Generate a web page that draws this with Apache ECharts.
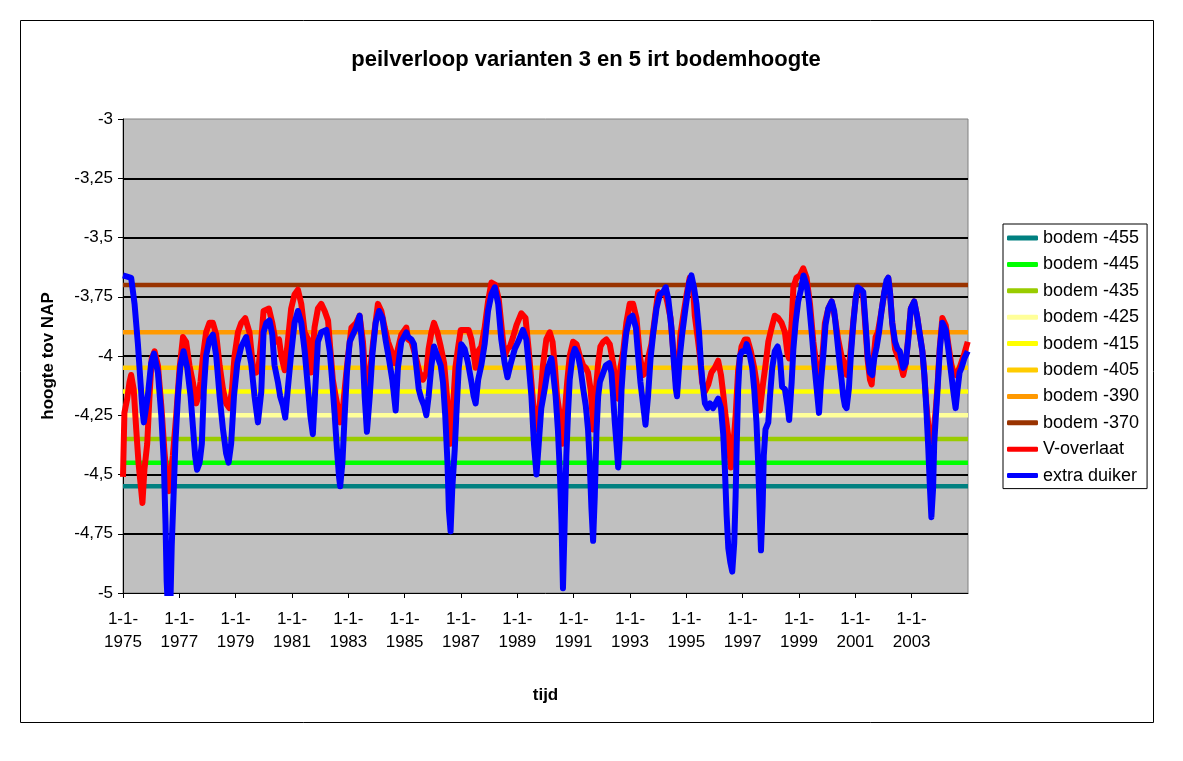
<!DOCTYPE html>
<html><head><meta charset="utf-8">
<script src="https://cdn.jsdelivr.net/npm/echarts@6/dist/echarts.min.js"></script>
<style>html,body{margin:0;padding:0;background:#fff}#c{width:1183px;height:761px}</style>
</head><body><div id="c"></div>
<script>
const chartTitle = 'peilverloop varianten 3 en 5 irt bodemhoogte';
const yName = 'hoogte tov NAP';
const xName = 'tijd';
const xOrigin = 1975;           // first date on the axis: 1-1-1975
const xEnd = 2005;
const xTickStep = 2;            // years between tick labels
const yMin = -5, yMax = -3, yStep = 0.25;

const bodemNames = ['bodem -455', 'bodem -445', 'bodem -435', 'bodem -425', 'bodem -415', 'bodem -405', 'bodem -390', 'bodem -370'];
const bodemLevels = [-4.55, -4.45, -4.35, -4.25, -4.15, -4.05, -3.90, -3.70];
const bodemColors = ['#008080', '#00FF00', '#99CC00', '#FFFF99', '#FFFF00', '#FFCC00', '#FF9900', '#993300'];

// [decimal year, level m NAP]
const vOverlaat = [
[1975.00,-4.51],[1975.05,-4.24],[1975.15,-4.18],[1975.23,-4.11],[1975.29,-4.08],[1975.38,-4.14],[1975.47,-4.31],[1975.55,-4.45],[1975.65,-4.57],[1975.69,-4.62],[1975.76,-4.48],[1975.86,-4.37],[1975.94,-4.17],[1976.02,-4.01],[1976.12,-3.98],[1976.24,-4.04],[1976.36,-4.21],[1976.47,-4.40],[1976.57,-4.54],[1976.63,-4.57],[1976.77,-4.42],[1976.89,-4.25],
[1977.01,-4.05],[1977.13,-3.92],[1977.24,-3.94],[1977.36,-4.04],[1977.48,-4.11],[1977.60,-4.20],[1977.68,-4.17],[1977.75,-4.11],[1977.84,-4.00],[1977.95,-3.90],[1978.07,-3.86],[1978.19,-3.86],[1978.31,-3.91],[1978.43,-4.04],[1978.55,-4.14],[1978.66,-4.20],[1978.78,-4.22],[1978.87,-4.14],[1978.96,-4.00],
[1979.08,-3.90],[1979.20,-3.86],[1979.34,-3.84],[1979.49,-3.90],[1979.61,-4.04],[1979.73,-4.07],[1979.81,-4.05],[1979.91,-3.93],[1979.99,-3.81],[1980.18,-3.80],[1980.30,-3.86],[1980.42,-3.94],[1980.54,-3.93],[1980.62,-4.00],[1980.74,-4.06],[1980.85,-3.94],[1980.97,-3.80],
[1981.09,-3.74],[1981.21,-3.72],[1981.33,-3.78],[1981.45,-3.90],[1981.57,-3.93],[1981.65,-4.01],[1981.68,-4.07],[1981.80,-3.88],[1981.92,-3.80],[1982.04,-3.78],[1982.16,-3.81],[1982.28,-3.85],[1982.36,-3.97],[1982.45,-4.10],[1982.55,-4.17],[1982.63,-4.22],[1982.71,-4.28],[1982.77,-4.27],[1982.87,-4.14],[1982.99,-4.00],
[1983.11,-3.88],[1983.28,-3.86],[1983.40,-3.83],[1983.52,-3.94],[1983.61,-4.11],[1983.70,-4.15],[1983.88,-3.94],[1984.05,-3.78],[1984.17,-3.81],[1984.29,-3.88],[1984.41,-3.94],[1984.53,-3.98],[1984.65,-4.03],[1984.76,-3.97],[1984.88,-3.91],
[1985.06,-3.88],[1985.12,-3.93],[1985.24,-3.94],[1985.41,-4.01],[1985.53,-4.07],[1985.65,-4.10],[1985.77,-4.07],[1985.85,-3.97],[1985.95,-3.90],[1986.04,-3.86],[1986.16,-3.90],[1986.28,-3.96],[1986.40,-4.03],[1986.48,-4.14],[1986.56,-4.25],[1986.63,-4.37],[1986.72,-4.21],[1986.80,-4.05],[1986.89,-3.97],
[1986.99,-3.89],[1987.13,-3.89],[1987.27,-3.89],[1987.37,-3.93],[1987.46,-4.00],[1987.52,-4.05],[1987.61,-3.98],[1987.72,-3.96],[1987.84,-3.88],[1987.96,-3.77],[1988.08,-3.69],[1988.22,-3.70],[1988.34,-3.76],[1988.46,-3.90],[1988.55,-4.00],[1988.65,-3.97],[1988.74,-3.96],[1988.85,-3.92],[1988.97,-3.87],
[1989.14,-3.82],[1989.29,-3.84],[1989.40,-3.97],[1989.50,-4.11],[1989.59,-4.24],[1989.68,-4.31],[1989.80,-4.20],[1989.91,-4.04],[1990.03,-3.93],[1990.15,-3.90],[1990.25,-3.94],[1990.33,-4.04],[1990.41,-4.17],[1990.51,-4.25],[1990.60,-4.37],[1990.68,-4.25],[1990.77,-4.11],[1990.86,-4.00],[1990.98,-3.94],
[1991.10,-3.95],[1991.22,-4.00],[1991.34,-4.04],[1991.43,-4.05],[1991.51,-4.07],[1991.60,-4.14],[1991.67,-4.25],[1991.69,-4.31],[1991.79,-4.14],[1991.87,-4.03],[1991.95,-3.96],[1992.05,-3.94],[1992.16,-3.93],[1992.28,-3.95],[1992.40,-4.03],[1992.50,-4.11],[1992.58,-4.18],[1992.66,-4.05],[1992.76,-3.98],[1992.87,-3.86],[1992.99,-3.78],
[1993.11,-3.78],[1993.23,-3.84],[1993.35,-4.00],[1993.47,-4.08],[1993.55,-4.07],[1993.64,-4.01],[1993.76,-3.95],[1993.88,-3.84],[1994.00,-3.73],[1994.12,-3.74],[1994.24,-3.73],[1994.32,-3.77],[1994.44,-3.84],[1994.53,-3.97],[1994.63,-4.11],[1994.71,-4.05],[1994.79,-3.91],[1994.89,-3.83],
[1995.01,-3.74],[1995.12,-3.67],[1995.24,-3.71],[1995.30,-3.83],[1995.40,-3.92],[1995.48,-4.00],[1995.56,-4.11],[1995.66,-4.15],[1995.78,-4.12],[1995.89,-4.07],[1996.01,-4.05],[1996.13,-4.02],[1996.23,-4.08],[1996.31,-4.16],[1996.39,-4.25],[1996.49,-4.34],[1996.58,-4.47],[1996.66,-4.39],[1996.75,-4.25],[1996.84,-4.06],[1996.96,-3.96],
[1997.08,-3.93],[1997.17,-3.93],[1997.29,-3.98],[1997.41,-4.05],[1997.53,-4.14],[1997.61,-4.23],[1997.73,-4.11],[1997.81,-4.04],[1997.91,-3.94],[1998.03,-3.88],[1998.14,-3.83],[1998.26,-3.84],[1998.38,-3.86],[1998.50,-3.90],[1998.59,-3.99],[1998.65,-4.01],[1998.74,-3.86],[1998.80,-3.71],[1998.91,-3.67],
[1999.03,-3.66],[1999.15,-3.63],[1999.27,-3.67],[1999.39,-3.78],[1999.51,-3.94],[1999.63,-4.05],[1999.71,-4.10],[1999.80,-4.05],[1999.92,-3.86],[2000.04,-3.80],[2000.16,-3.77],[2000.28,-3.84],[2000.39,-3.93],[2000.51,-4.00],[2000.61,-4.03],[2000.69,-4.08],[2000.77,-4.05],[2000.84,-3.97],[2000.93,-3.85],
[2001.01,-3.76],[2001.08,-3.71],[2001.20,-3.72],[2001.28,-3.75],[2001.36,-3.88],[2001.44,-4.02],[2001.52,-4.10],[2001.58,-4.12],[2001.67,-3.98],[2001.72,-3.92],[2001.80,-3.90],[2001.93,-3.81],[2002.03,-3.73],[2002.17,-3.67],[2002.23,-3.73],[2002.31,-3.86],[2002.41,-3.97],[2002.50,-4.00],[2002.58,-4.02],[2002.70,-4.08],[2002.79,-4.03],[2002.88,-3.92],[2002.97,-3.80],
[2003.09,-3.77],[2003.19,-3.83],[2003.29,-3.91],[2003.38,-3.98],[2003.45,-4.08],[2003.52,-4.20],[2003.62,-4.33],[2003.72,-4.36],[2003.80,-4.30],[2003.86,-4.22],[2003.92,-4.12],[2004.00,-3.96],[2004.09,-3.84],[2004.21,-3.87],[2004.30,-3.95],[2004.40,-4.03],[2004.48,-4.07],[2004.56,-4.08],[2004.70,-4.05],[2004.87,-3.99],[2004.99,-3.94]
];

const extraDuiker = [
[1975.00,-3.66],[1975.29,-3.67],[1975.41,-3.78],[1975.53,-3.95],[1975.62,-4.11],[1975.70,-4.24],[1975.74,-4.28],[1975.88,-4.17],[1976.00,-4.03],[1976.10,-3.99],[1976.24,-4.07],[1976.36,-4.25],[1976.45,-4.45],[1976.51,-4.71],[1976.55,-4.95],[1976.60,-5.08],[1976.68,-5.06],[1976.73,-4.80],[1976.81,-4.54],[1976.86,-4.37],[1976.95,-4.17],
[1977.04,-4.04],[1977.15,-3.98],[1977.28,-4.05],[1977.40,-4.17],[1977.49,-4.31],[1977.56,-4.42],[1977.63,-4.48],[1977.72,-4.45],[1977.80,-4.37],[1977.87,-4.14],[1977.95,-4.00],[1978.07,-3.93],[1978.19,-3.91],[1978.31,-4.00],[1978.43,-4.17],[1978.55,-4.31],[1978.66,-4.41],[1978.75,-4.45],[1978.84,-4.37],[1978.94,-4.17],
[1979.06,-4.03],[1979.20,-3.96],[1979.37,-3.92],[1979.55,-4.03],[1979.67,-4.17],[1979.79,-4.28],[1979.91,-4.15],[1979.99,-3.90],[1980.09,-3.86],[1980.20,-3.85],[1980.30,-3.91],[1980.38,-4.04],[1980.50,-4.11],[1980.58,-4.17],[1980.68,-4.21],[1980.76,-4.26],[1980.85,-4.14],[1980.97,-3.99],
[1981.09,-3.86],[1981.21,-3.81],[1981.33,-3.86],[1981.45,-3.98],[1981.57,-4.14],[1981.65,-4.25],[1981.74,-4.33],[1981.84,-4.11],[1981.92,-3.94],[1982.04,-3.90],[1982.22,-3.89],[1982.34,-3.98],[1982.43,-4.11],[1982.51,-4.24],[1982.60,-4.40],[1982.67,-4.51],[1982.71,-4.55],[1982.79,-4.45],[1982.87,-4.25],[1982.95,-4.07],
[1983.05,-3.94],[1983.16,-3.91],[1983.28,-3.88],[1983.40,-3.83],[1983.50,-3.97],[1983.58,-4.17],[1983.66,-4.32],[1983.76,-4.17],[1983.85,-4.00],[1983.97,-3.86],[1984.09,-3.81],[1984.21,-3.84],[1984.32,-3.93],[1984.44,-4.01],[1984.56,-4.10],[1984.68,-4.23],[1984.76,-4.05],[1984.88,-3.94],
[1985.06,-3.90],[1985.12,-3.92],[1985.24,-3.93],[1985.33,-3.95],[1985.41,-4.04],[1985.50,-4.14],[1985.59,-4.18],[1985.69,-4.21],[1985.77,-4.25],[1985.85,-4.17],[1985.95,-4.04],[1986.04,-3.96],[1986.16,-4.00],[1986.28,-4.04],[1986.36,-4.11],[1986.44,-4.25],[1986.52,-4.45],[1986.57,-4.65],[1986.63,-4.74],[1986.69,-4.56],[1986.78,-4.39],[1986.85,-4.21],[1986.92,-4.05],
[1987.01,-3.95],[1987.13,-3.97],[1987.25,-4.03],[1987.37,-4.11],[1987.45,-4.17],[1987.52,-4.20],[1987.61,-4.10],[1987.72,-4.04],[1987.84,-3.95],[1987.96,-3.81],[1988.08,-3.74],[1988.20,-3.71],[1988.32,-3.78],[1988.43,-3.93],[1988.55,-4.03],[1988.65,-4.09],[1988.77,-4.03],[1988.91,-3.97],
[1989.03,-3.94],[1989.20,-3.89],[1989.32,-3.93],[1989.40,-4.03],[1989.50,-4.17],[1989.59,-4.37],[1989.68,-4.50],[1989.76,-4.37],[1989.85,-4.22],[1989.97,-4.14],[1990.09,-4.05],[1990.21,-4.01],[1990.27,-4.07],[1990.36,-4.17],[1990.44,-4.31],[1990.51,-4.49],[1990.57,-4.71],[1990.62,-4.98],[1990.68,-4.71],[1990.74,-4.42],[1990.80,-4.24],[1990.86,-4.10],[1990.96,-4.00],
[1991.04,-3.97],[1991.16,-4.00],[1991.24,-4.05],[1991.34,-4.14],[1991.43,-4.21],[1991.51,-4.31],[1991.57,-4.45],[1991.63,-4.64],[1991.69,-4.78],[1991.75,-4.59],[1991.81,-4.32],[1991.87,-4.17],[1991.93,-4.11],[1992.02,-4.08],[1992.14,-4.04],[1992.26,-4.03],[1992.34,-4.07],[1992.40,-4.17],[1992.46,-4.28],[1992.52,-4.37],[1992.58,-4.47],[1992.64,-4.34],[1992.70,-4.14],[1992.78,-4.00],[1992.87,-3.90],[1992.99,-3.84],
[1993.09,-3.83],[1993.21,-3.88],[1993.29,-4.00],[1993.37,-4.11],[1993.47,-4.21],[1993.55,-4.29],[1993.64,-4.17],[1993.73,-4.01],[1993.82,-3.91],[1993.94,-3.80],[1994.06,-3.74],[1994.18,-3.73],[1994.27,-3.71],[1994.36,-3.76],[1994.47,-3.88],[1994.56,-4.03],[1994.63,-4.14],[1994.67,-4.17],[1994.77,-4.00],[1994.86,-3.90],[1994.98,-3.79],
[1995.10,-3.69],[1995.18,-3.66],[1995.27,-3.71],[1995.36,-3.78],[1995.45,-3.90],[1995.52,-4.04],[1995.60,-4.14],[1995.66,-4.20],[1995.75,-4.22],[1995.84,-4.20],[1995.95,-4.22],[1996.04,-4.20],[1996.13,-4.18],[1996.23,-4.22],[1996.31,-4.33],[1996.37,-4.48],[1996.43,-4.67],[1996.49,-4.81],[1996.56,-4.87],[1996.63,-4.91],[1996.70,-4.79],[1996.75,-4.59],[1996.79,-4.37],[1996.84,-4.14],[1996.90,-4.00],[1996.98,-3.98],
[1997.08,-3.98],[1997.14,-3.95],[1997.17,-3.96],[1997.26,-4.00],[1997.34,-4.05],[1997.41,-4.14],[1997.49,-4.28],[1997.55,-4.45],[1997.61,-4.68],[1997.65,-4.82],[1997.71,-4.63],[1997.75,-4.42],[1997.81,-4.31],[1997.91,-4.28],[1997.97,-4.17],[1998.05,-4.05],[1998.14,-3.98],[1998.24,-3.96],[1998.32,-4.00],[1998.40,-4.13],[1998.50,-4.14],[1998.59,-4.21],[1998.65,-4.27],[1998.74,-4.11],[1998.80,-3.97],[1998.88,-3.86],[1998.97,-3.77],
[1999.07,-3.72],[1999.16,-3.66],[1999.27,-3.70],[1999.35,-3.77],[1999.45,-3.90],[1999.54,-4.03],[1999.63,-4.14],[1999.71,-4.24],[1999.78,-4.11],[1999.86,-4.00],[1999.94,-3.87],[2000.04,-3.80],[2000.16,-3.77],[2000.25,-3.81],[2000.33,-3.90],[2000.39,-3.97],[2000.45,-4.04],[2000.51,-4.10],[2000.57,-4.17],[2000.63,-4.21],[2000.69,-4.22],[2000.77,-4.14],[2000.84,-4.00],[2000.93,-3.86],
[2001.01,-3.76],[2001.08,-3.71],[2001.20,-3.72],[2001.28,-3.73],[2001.36,-3.86],[2001.44,-4.00],[2001.52,-4.07],[2001.60,-4.08],[2001.67,-4.01],[2001.76,-3.96],[2001.84,-3.90],[2001.93,-3.81],[2002.03,-3.73],[2002.11,-3.68],[2002.17,-3.67],[2002.23,-3.73],[2002.31,-3.86],[2002.41,-3.94],[2002.50,-3.97],[2002.58,-3.98],[2002.70,-4.05],[2002.79,-4.03],[2002.88,-3.93],[2002.97,-3.80],
[2003.09,-3.77],[2003.19,-3.83],[2003.29,-3.91],[2003.38,-3.98],[2003.45,-4.08],[2003.52,-4.22],[2003.59,-4.39],[2003.65,-4.56],[2003.70,-4.68],[2003.76,-4.56],[2003.80,-4.37],[2003.86,-4.25],[2003.92,-4.14],[2004.00,-3.97],[2004.09,-3.86],[2004.21,-3.89],[2004.30,-3.97],[2004.40,-4.07],[2004.48,-4.15],[2004.56,-4.22],[2004.63,-4.14],[2004.70,-4.07],[2004.77,-4.05],[2004.87,-4.01],[2004.99,-3.98]
];

const FONT = 'Arial, "Liberation Sans", sans-serif';
const toAxis = arr => arr.map(p => [p[0] - xOrigin, p[1]]);

const series = bodemNames.map((name, i) => ({
  name, type: 'line', showSymbol: false, symbol: 'none', silent: true,
  data: [[0, bodemLevels[i]], [xEnd - xOrigin, bodemLevels[i]]],
  lineStyle: { color: bodemColors[i], width: 4.5 }, itemStyle: { color: bodemColors[i] }, z: 2
}));
series.push({
  name: 'V-overlaat', type: 'line', showSymbol: false, symbol: 'none', clip: true,
  data: toAxis(vOverlaat), lineStyle: { color: '#FF0000', width: 6, join: 'round' }, itemStyle: { color: '#FF0000' }, z: 3
});
series.push({
  name: 'extra duiker', type: 'line', showSymbol: false, symbol: 'none', clip: true,
  data: toAxis(extraDuiker), lineStyle: { color: '#0000FF', width: 6, join: 'round' }, itemStyle: { color: '#0000FF' }, z: 4
});

const chart = echarts.init(document.getElementById('c'), null, { renderer: 'canvas' });
chart.setOption({
  animation: false,
  backgroundColor: '#ffffff',
  textStyle: { fontFamily: FONT },
  graphic: [{ type: 'rect', shape: { x: 20.5, y: 20.5, width: 1133, height: 702 }, style: { fill: 'none', stroke: '#000', lineWidth: 1 }, silent: true, z: -10 }],
  title: { text: chartTitle, left: 586, top: 49, textAlign: 'center', padding: 0,
    textStyle: { fontFamily: FONT, fontSize: 22, fontWeight: 'bold', color: '#000' } },
  legend: {
    orient: 'vertical', left: 1003, top: 224,
    data: bodemNames.concat(['V-overlaat', 'extra duiker']),
    icon: 'roundRect', itemWidth: 31, itemHeight: 5, itemGap: 6.4,
    padding: [4, 8, 3, 4], borderColor: '#000', borderWidth: 1, backgroundColor: '#fff',
    selectedMode: false,
    textStyle: { fontFamily: FONT, fontSize: 18, color: '#000', lineHeight: 20 }
  },
  grid: { left: 123, top: 119, width: 845, height: 474, show: true, backgroundColor: '#C0C0C0', borderColor: '#808080', borderWidth: 1, containLabel: false },
  xAxis: {
    type: 'value', min: 0, max: xEnd - xOrigin, interval: xTickStep,
    name: xName, nameLocation: 'middle', nameGap: 94,
    nameTextStyle: { fontFamily: FONT, fontSize: 17, fontWeight: 'bold', color: '#000' },
    axisLine: { show: true, onZero: false, lineStyle: { color: '#000', width: 1 } },
    axisTick: { show: true, inside: false, length: 5, lineStyle: { color: '#000' } },
    axisLabel: { margin: 15, fontFamily: FONT, fontSize: 17, color: '#000', lineHeight: 23, showMaxLabel: false,
      formatter: v => (v >= xEnd - xOrigin ? '' : '1-1-\n' + (xOrigin + v)) },
    splitLine: { show: false }
  },
  yAxis: {
    type: 'value', min: yMin, max: yMax, interval: yStep,
    name: yName, nameLocation: 'middle', nameGap: 66, nameRotate: 90,
    nameTextStyle: { fontFamily: FONT, fontSize: 17, fontWeight: 'bold', color: '#000' },
    axisLine: { show: true, onZero: false, lineStyle: { color: '#000', width: 1 } },
    axisTick: { show: true, inside: false, length: 5, lineStyle: { color: '#000' } },
    axisLabel: { margin: 10, fontFamily: FONT, fontSize: 17, color: '#000',
      formatter: v => String(+v.toFixed(2)).replace('.', ',') },
    splitLine: { show: true, showMinLine: false, showMaxLine: false, lineStyle: { color: '#000', width: 2 } }
  },
  series
});
</script></body></html>
